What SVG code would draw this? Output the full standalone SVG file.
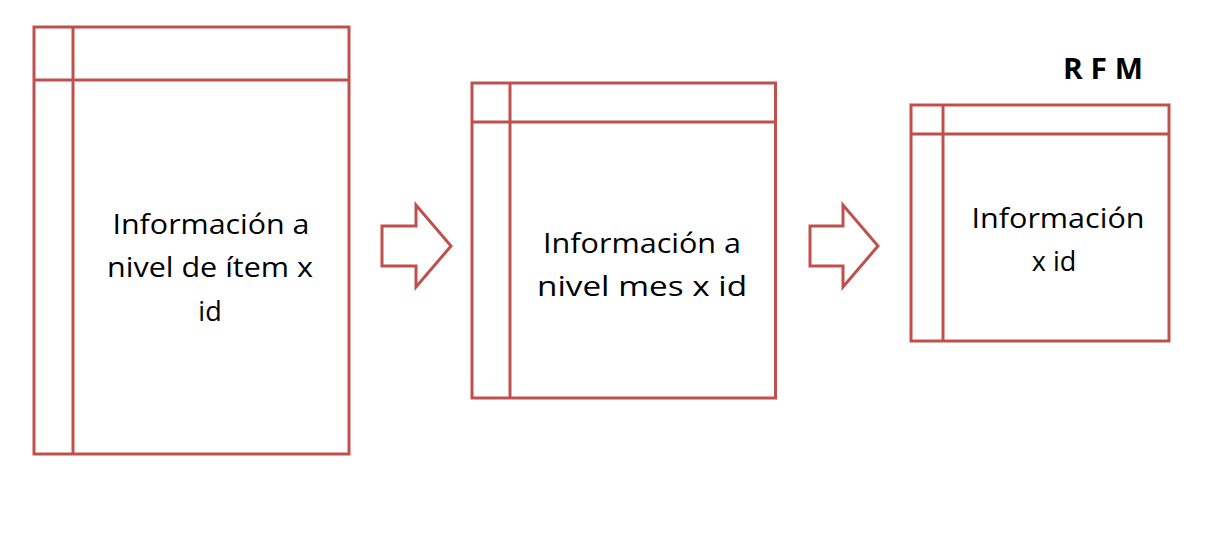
<svg xmlns="http://www.w3.org/2000/svg" width="1231" height="541" viewBox="0 0 1231 541">
<style>
.ln{fill:none;stroke:#C0504D;stroke-width:3}
.t{font-family:"Open Sans","Liberation Sans",sans-serif;font-size:27px;fill:#000;text-anchor:middle}
.b{font-family:"Open Sans","Liberation Sans",sans-serif;font-size:28px;font-weight:bold;fill:#000}
</style>
<rect width="1231" height="541" fill="#fff"/>
<g id="table1">
<rect class="ln" x="34" y="27" width="315" height="427"/>
<line class="ln" x1="73" y1="27" x2="73" y2="454"/>
<line class="ln" x1="34" y1="80" x2="349" y2="80"/>
<text class="t" x="211" y="234" textLength="197" lengthAdjust="spacingAndGlyphs">Información a</text>
<text class="t" x="210" y="277" textLength="206" lengthAdjust="spacingAndGlyphs">nivel de ítem x</text>
<text class="t" x="210" y="321">id</text>
</g>
<g id="table2">
<rect class="ln" x="472" y="83" width="303.5" height="315"/>
<line class="ln" x1="510" y1="83" x2="510" y2="398"/>
<line class="ln" x1="472" y1="122" x2="775.5" y2="122"/>
<text class="t" x="642" y="253" textLength="198" lengthAdjust="spacingAndGlyphs">Información a</text>
<text class="t" x="642" y="296" textLength="210" lengthAdjust="spacingAndGlyphs">nivel mes x id</text>
</g>
<g id="table3">
<rect class="ln" x="911" y="105" width="258" height="236"/>
<line class="ln" x1="943" y1="105" x2="943" y2="341"/>
<line class="ln" x1="911" y1="134" x2="1169" y2="134"/>
<text class="t" x="1058" y="228" textLength="173" lengthAdjust="spacingAndGlyphs">Información</text>
<text class="t" x="1054" y="271">x id</text>
</g>
<g id="rfm-label">
<text class="b" x="1063" y="79" textLength="80" lengthAdjust="spacingAndGlyphs">R F M</text>
</g>
<g id="connectors">
<polygon class="ln" points="382,226 416,226 416,205 451,246 416,287 416,266 382,266"/>
<polygon class="ln" points="810,226 843,226 843,205 878,246 843,287 843,266 810,266"/>
</g>
</svg>
